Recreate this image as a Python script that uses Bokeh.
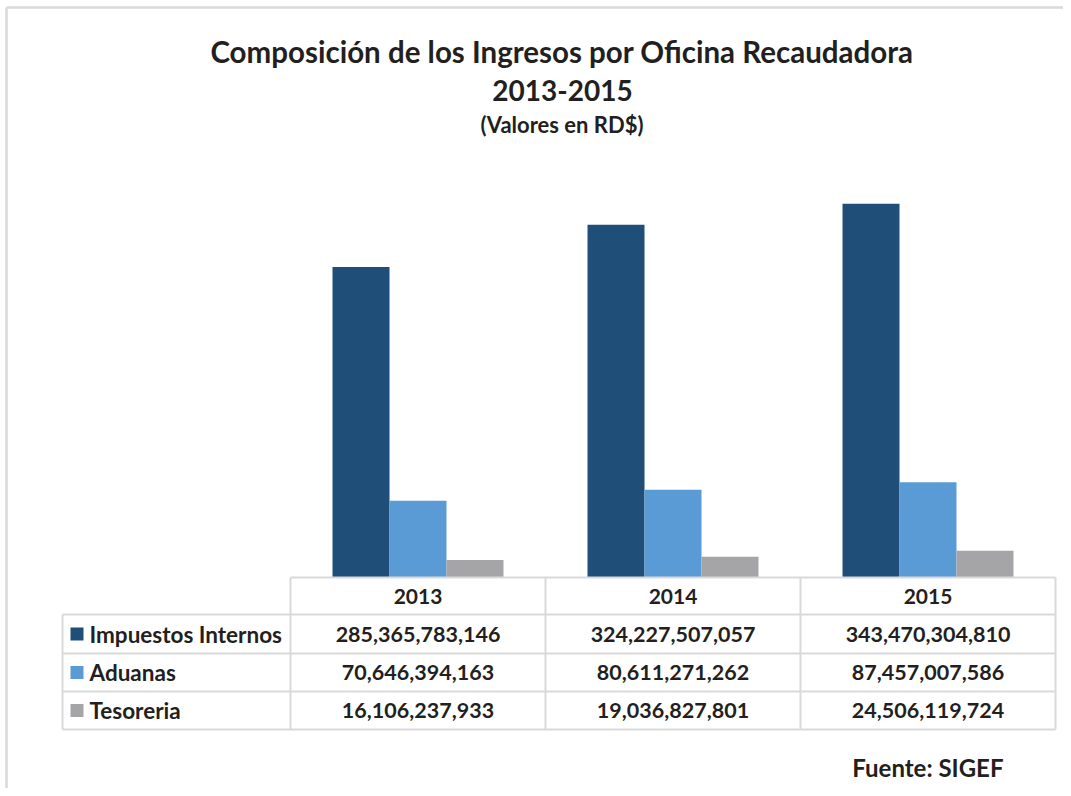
from bokeh.plotting import figure
from bokeh.models import Range1d, ColumnDataSource
from bokeh.core.properties import value
from bokeh.embed import file_html
from bokeh.resources import INLINE

years = ["2013", "2014", "2015"]
series = ["Impuestos Internos", "Aduanas", "Tesoreria"]
impuestos = [285365783146, 324227507057, 343470304810]
aduanas = [70646394163, 80611271262, 87457007586]
tesoreria = [16106237933, 19036827801, 24506119724]
colors = ["#1f4e79", "#5b9bd5", "#a5a5a8"]

title_lines = ["Composición de los Ingresos por Oficina Recaudadora", "2013-2015", "(Valores en RD$)"]
source_note = "Fuente: SIGEF"

W, H = 1063, 788
FONT = value("Lato")
TXT = "#231f20"
GRID = "#d9d9d9"

p = figure(width=W, height=H, output_backend="svg", toolbar_location=None,
           x_range=Range1d(-1.63725, 2.53137), y_range=Range1d(-193.93e9, 530.33e9),
           x_axis_location=None, y_axis_location=None, min_border=0)
p.grid.visible = False
p.outline_line_color = None
p.background_fill_color = "white"
p.extra_x_ranges = {"px": Range1d(0, W)}
p.extra_y_ranges = {"px": Range1d(H, 0)}

# outer border (left and top)
p.segment(x0=[6, 6], y0=[7, 7], x1=[6, W], y1=[H, 7], line_color=GRID, line_width=2.5,
          x_range_name="px", y_range_name="px")

# bars
offsets = [-0.2235, 0.0, 0.2235]
for j, vals in enumerate([impuestos, aduanas, tesoreria]):
    src = ColumnDataSource(dict(x=[i + offsets[j] for i in range(len(years))], top=vals))
    p.vbar(x="x", top="top", bottom=0, width=0.2235, fill_color=colors[j], line_color=None, source=src)

# table
rows_y = [577, 614, 653, 691, 729]
label_left = -0.5 - (290 - 62) / 255
n = len(years)
p.segment(x0=[-0.5] + [label_left] * 4, y0=rows_y, x1=[n - 0.5] * 5, y1=rows_y,
          line_color=GRID, line_width=2, y_range_name="px")
vx = [label_left] + [i - 0.5 for i in range(n + 1)]
vy0 = [rows_y[1]] + [rows_y[0]] * (n + 1)
p.segment(x0=vx, y0=vy0, x1=vx, y1=[rows_y[-1]] * len(vx),
          line_color=GRID, line_width=2, y_range_name="px")

hdr_y = (rows_y[0] + rows_y[1]) / 2
p.text(x=list(range(n)), y=[hdr_y] * n, text=years, text_align="center", text_baseline="middle",
       text_font=FONT, text_font_style="bold", text_font_size="21px", text_color=TXT,
       y_range_name="px")

for r, (name, vals) in enumerate(zip(series, [impuestos, aduanas, tesoreria])):
    cy = (rows_y[r + 1] + rows_y[r + 2]) / 2
    p.text(x=list(range(n)), y=[cy] * n, text=[f"{v:,}" for v in vals], text_align="center",
           text_baseline="middle", text_font=FONT, text_font_style="bold", text_font_size="21.5px",
           text_color=TXT, y_range_name="px")
    p.rect(x=[76.5], y=[cy], width=13, height=13, width_units="screen", height_units="screen",
           fill_color=colors[r], line_color=None, x_range_name="px", y_range_name="px")
    p.text(x=[89], y=[cy], text=[name], text_align="left", text_baseline="middle",
           text_font=FONT, text_font_style="bold", text_font_size="22.5px", text_color=TXT,
           x_range_name="px", y_range_name="px")

p.text(x=[561.5], y=[51], text=[title_lines[0]], text_align="center", text_baseline="middle",
       text_font=FONT, text_font_style="bold", text_font_size="29.5px", text_color=TXT,
       x_range_name="px", y_range_name="px")
p.text(x=[562], y=[90], text=[title_lines[1]], text_align="center", text_baseline="middle",
       text_font=FONT, text_font_style="bold", text_font_size="28px", text_color=TXT,
       x_range_name="px", y_range_name="px")
p.text(x=[561.5], y=[124], text=[title_lines[2]], text_align="center", text_baseline="middle",
       text_font=FONT, text_font_style="bold", text_font_size="22px", text_color=TXT,
       x_range_name="px", y_range_name="px")
p.text(x=[1003], y=[767], text=[source_note], text_align="right", text_baseline="middle",
       text_font=FONT, text_font_style="bold", text_font_size="24px", text_color=TXT,
       x_range_name="px", y_range_name="px")

open("out.html", "w").write(file_html(p, INLINE))
